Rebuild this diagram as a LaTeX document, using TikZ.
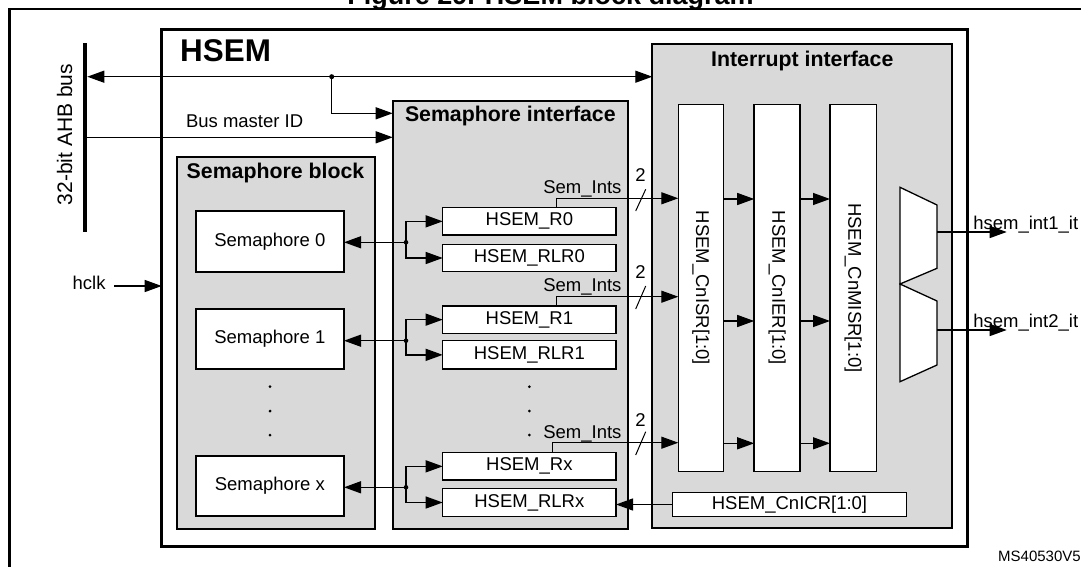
\documentclass[tikz,border=0pt]{standalone}
\usepackage{fontspec}
\setmainfont{Liberation Sans}
\usetikzlibrary{arrows.meta}
\definecolor{panelgray}{RGB}{217,217,217}
\newcommand{\regfnt}{\fontsize{18.5}{21}\selectfont}
\newcommand{\hdrfnt}{\bfseries\fontsize{21.3}{24}\selectfont}
\begin{document}
\begin{tikzpicture}[x=1pt,y=-1pt,
  >={Triangle[length=17pt,width=12pt]},
  panel/.style={draw,line width=2pt,fill=panelgray,inner sep=0pt,outer sep=0pt},
  regbox/.style={draw,line width=1.5pt,fill=white,inner sep=0pt,outer sep=0pt,font=\regfnt},
  conn/.style={line width=1.3pt,->},
  txt/.style={inner sep=0pt,outer sep=0pt,font=\regfnt},
  hdr/.style={inner sep=0pt,outer sep=0pt,font=\hdrfnt},
  jdot/.style={circle,fill=black,inner sep=0pt,minimum size=5pt},
  smalldot/.style={circle,fill=black,inner sep=0pt,minimum size=3pt},
]
\useasboundingbox (0,0) rectangle (1081,567);

% outer frame and cropped title
\draw[line width=2.4pt] (9.3,590) -- (9.3,9) -- (1100,9);
\node[inner sep=0pt,anchor=base,font=\bfseries\fontsize{27}{30}\selectfont] (title) at (550.5,4.5) {Figure 29. HSEM block diagram};

% HSEM box
\node[draw,line width=2.6pt,fill=white,minimum width=805.6pt,minimum height=517.4pt,inner sep=0pt,outer sep=0pt] (hsem) at (564.5,288) {};
\node[inner sep=0pt,anchor=base west,font=\bfseries\fontsize{31.4}{34}\selectfont] (hsemtitle) at (180,61.7) {HSEM};

% panels
\node[panel,minimum width=300pt,minimum height=484pt] (intf) at (802.3,286.3) {};
\node[hdr,anchor=base] (intftitle) at (802.3,66.7) {Interrupt interface};
\node[panel,minimum width=235.6pt,minimum height=427.8pt] (semif) at (510.5,314.6) {};
\node[hdr,anchor=base west] (semiftitle) at (405,122) {Semaphore interface};
\node[panel,minimum width=198pt,minimum height=371.2pt] (semblk) at (275.7,342.9) {};
\node[hdr,anchor=base west] (semblktitle) at (186.7,178.3) {Semaphore block};

% semaphores
\node[regbox,line width=1.7pt,minimum width=148.3pt,minimum height=60.7pt] (sem0) at (269.85,241.35) {Semaphore 0};
\node[regbox,line width=1.7pt,minimum width=148.3pt,minimum height=60.6pt] (sem1) at (269.85,339) {Semaphore 1};
\node[regbox,line width=1.7pt,minimum width=148.3pt,minimum height=60.3pt] (semx) at (269.85,485.85) {Semaphore x};
\node[smalldot] (bd1) at (270,386.7) {};
\node[smalldot] (bd2) at (270,411) {};
\node[smalldot] (bd3) at (270,435) {};

% registers
\node[regbox,minimum width=173.3pt,minimum height=27.3pt] (r0) at (529.35,221.35) {HSEM\_R0};
\node[regbox,minimum width=173.3pt,minimum height=27.4pt] (rlr0) at (529.35,258) {HSEM\_RLR0};
\node[regbox,minimum width=173.3pt,minimum height=27.3pt] (r1) at (529.35,319.65) {HSEM\_R1};
\node[regbox,minimum width=173.3pt,minimum height=28.3pt] (rlr1) at (529.35,354.85) {HSEM\_RLR1};
\node[regbox,minimum width=173.3pt,minimum height=27.3pt] (rx) at (529.35,466.35) {HSEM\_Rx};
\node[regbox,minimum width=173.3pt,minimum height=28.4pt] (rlrx) at (529.35,502.5) {HSEM\_RLRx};
\node[smalldot] (id1) at (529.3,386.7) {};
\node[smalldot] (id2) at (529.3,411) {};
\node[smalldot] (id3) at (529.3,435) {};

% interrupt registers
\node[regbox,minimum width=45.4pt,minimum height=367.4pt] (isr) at (701,288) {};
\node[regbox,minimum width=45.8pt,minimum height=367.4pt] (ier) at (777.1,288) {};
\node[regbox,minimum width=46.5pt,minimum height=367.4pt] (misr) at (853.25,288) {};
\node[txt,rotate=-90] (isrtxt) at (isr.center) {HSEM\_CnISR[1:0]};
\node[txt,rotate=-90] (iertxt) at (ier.center) {HSEM\_CnIER[1:0]};
\node[txt,rotate=-90] (misrtxt) at (misr.center) {HSEM\_CnMISR[1:0]};
\node[regbox,minimum width=234.4pt,minimum height=24.4pt] (icr) at (789.5,504.5) {HSEM\_CnICR[1:0]};

% multiplexers
\draw[line width=1.3pt,fill=white] (900,187.3) -- (937,205) -- (937,268.3) -- (900,284) -- cycle;
\draw[line width=1.3pt,fill=white] (900,284) -- (937,301) -- (937,365) -- (900,381.7) -- cycle;
\coordinate (mux1) at (937,232);
\coordinate (mux2) at (937,330);
\coordinate (out1) at (1006.7,232);
\coordinate (out2) at (1006.7,330);
\draw[conn] (mux1) -- (out1);
\draw[conn] (mux2) -- (out2);
\node[txt,anchor=base west] (o1txt) at (973.3,229.5) {hsem\_int1\_it};
\node[txt,anchor=base west] (o2txt) at (973.3,327.5) {hsem\_int2\_it};

% AHB bus
\coordinate (bustop) at (85.3,43.3);
\coordinate (busbot) at (85.3,231.7);
\draw[line width=4pt] (bustop) -- (busbot);
\node[inner sep=0pt,anchor=base,rotate=90,font=\fontsize{21}{24}\selectfont] (bustxt) at (72,134.5) {32-bit AHB bus};
\coordinate (ahb1) at (87.3,76.7);
\coordinate (ahb2) at (87.3,137.3);
\draw[line width=1.3pt,<->] (ahb1) -- (intf.west |- ahb1);
\node[jdot] (j1) at (331.7,76.7) {};
\draw[conn] (j1.center) |- (semif.west |- 0,113.3);
\draw[conn] (ahb2) -- (semif.west |- ahb2);
\node[txt,anchor=base west] (bmid) at (186,128) {Bus master ID};

% hclk
\node[txt,anchor=base west] (hclk) at (72.7,289.3) {hclk};
\coordinate (hclkstart) at (114,286);
\draw[conn] (hclkstart) -- (hsem.west |- hclkstart);

% semaphore to register connections
\node[jdot,minimum size=4.6pt] (d0) at (406,242.3) {};
\node[jdot,minimum size=4.6pt] (d1) at (406,340.7) {};
\node[jdot,minimum size=4.6pt] (dx) at (406,487.3) {};
\draw[conn] (d0.center) -- (sem0.east |- d0.center);
\draw[conn] (d0.center) |- (r0.west);
\draw[conn] (d0.center) |- (rlr0.west);
\draw[conn] (d1.center) -- (sem1.east |- d1.center);
\draw[conn] (d1.center) |- (r1.west);
\draw[conn] (d1.center) |- (rlr1.west);
\draw[conn] (dx.center) -- (semx.east |- dx.center);
\draw[conn] (dx.center) |- (rx.west);
\draw[conn] (dx.center) |- (rlrx.west);

% Sem_Ints
\draw[conn] ([xshift=27.35pt]r0.north) |- (isr.west |- 0,198.3);
\draw[conn] ([xshift=27.35pt]r1.north) |- (isr.west |- 0,296.7);
\draw[conn] ([xshift=23.35pt]rx.north) |- (isr.west |- 0,442.7);
\node[txt,anchor=base west] (si0) at (543.3,193) {Sem\_Ints};
\node[txt,anchor=base west] (si1) at (543.3,291) {Sem\_Ints};
\node[txt,anchor=base west] (si2) at (543.3,438.3) {Sem\_Ints};
\draw[line width=1pt] (635.7,211) -- (645.7,189.3);
\draw[line width=1pt] (635.7,309) -- (645.7,286);
\draw[line width=1pt] (635.7,455) -- (645.7,431.7);
\node[txt,anchor=base] (n0) at (640.5,181.7) {2};
\node[txt,anchor=base] (n1) at (640.5,278.3) {2};
\node[txt,anchor=base] (n2) at (640.5,426.7) {2};

% ISR -> IER -> MISR
\foreach \yy in {199,321,443.3}{
  \draw[conn] (isr.east |- 0,\yy) -- (ier.west |- 0,\yy);
  \draw[conn] (ier.east |- 0,\yy) -- (misr.west |- 0,\yy);
}

% CnICR -> RLRx
\draw[conn] (icr.west) -- (rlrx.east |- icr.west);

% figure id
\node[inner sep=0pt,anchor=base west,font=\fontsize{15}{17}\selectfont] (msid) at (998,561.7) {MS40530V5};
\end{tikzpicture}
\end{document}
